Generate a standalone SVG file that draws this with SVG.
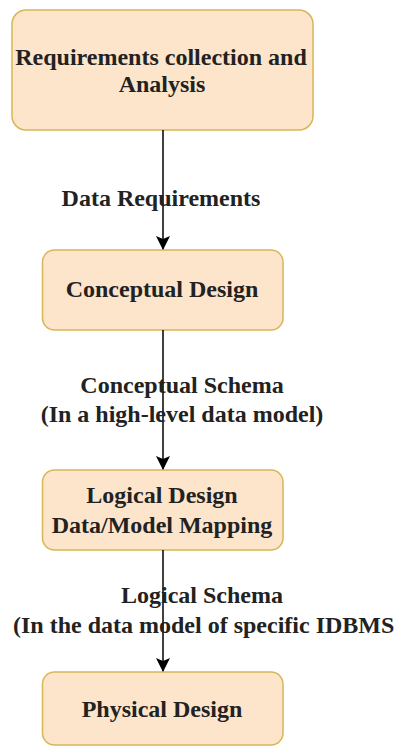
<svg xmlns="http://www.w3.org/2000/svg" width="394" height="748" viewBox="0 0 394 748">
<defs>
<style>
.box{fill:#fde5cb;stroke:#d6b656;stroke-width:1.5}
.t{font-family:"Liberation Serif","Times New Roman",serif;font-size:24px;font-weight:bold;fill:#222}
.m{text-anchor:middle}
.edge{stroke:#000;stroke-width:1.5;fill:none}
</style>
<marker id="arr" viewBox="0 0 14 14" refX="13" refY="7" markerWidth="14" markerHeight="14" markerUnits="userSpaceOnUse" orient="auto">
<path d="M0,0 L14,7 L0,14 L3,7 Z" fill="#000"/>
</marker>
</defs>
<rect width="394" height="748" fill="#fff"/>
<g id="n1"><rect class="box" x="12" y="10" width="301" height="120" rx="14"/>
<text class="t m" x="161" y="65">Requirements collection and</text>
<text class="t m" x="162" y="92">Analysis</text></g>
<g id="n2"><rect class="box" x="42.5" y="250" width="240.5" height="80" rx="12"/>
<text class="t m" x="162" y="297">Conceptual Design</text></g>
<g id="n3"><rect class="box" x="42.5" y="470" width="240.5" height="80" rx="12"/>
<text class="t m" x="162" y="503">Logical Design</text>
<text class="t m" x="162" y="533">Data/Model Mapping</text></g>
<g id="n4"><rect class="box" x="42.5" y="672" width="240.5" height="73" rx="12"/>
<text class="t m" x="162" y="717">Physical Design</text></g>
<g id="edges">
<path class="edge" d="M163,130 V249" marker-end="url(#arr)"/>
<path class="edge" d="M163,330 V469" marker-end="url(#arr)"/>
<path class="edge" d="M163,550 V671" marker-end="url(#arr)"/>
<text class="t m" x="161" y="206">Data Requirements</text>
<text class="t m" x="182" y="393">Conceptual Schema</text>
<text class="t m" x="182" y="422">(In a high-level data model)</text>
<text class="t m" x="202" y="603">Logical Schema</text>
<text class="t" x="13" y="633">(In the data model of specific IDBMS</text>
</g>
</svg>
